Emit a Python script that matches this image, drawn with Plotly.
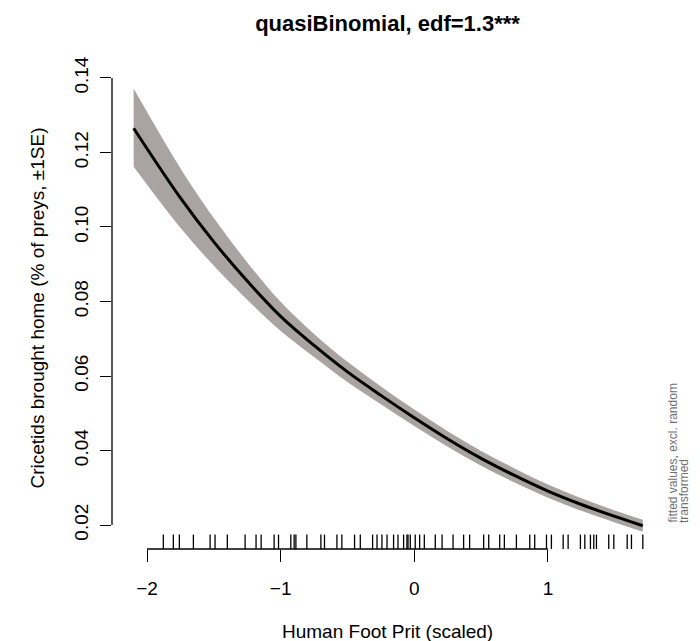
import plotly.graph_objects as go

# ---- data ----
x_grid = [-2.10, -1.75, -1.50, -1.25, -1.00, -0.75, -0.50, -0.25, 0.00, 0.25, 0.50, 0.75, 1.00, 1.25, 1.50, 1.71]
fit = [0.1265, 0.1078, 0.0960, 0.0855, 0.0760, 0.0682, 0.0611, 0.0548, 0.0488, 0.0431, 0.0379, 0.0333, 0.0291, 0.0255, 0.0223, 0.0198]
upper = [0.1372, 0.1158, 0.1024, 0.0905, 0.0799, 0.0713, 0.0638, 0.0572, 0.0510, 0.0452, 0.0399, 0.0352, 0.0309, 0.0272, 0.0239, 0.0214]
lower = [0.1162, 0.0998, 0.0896, 0.0805, 0.0721, 0.0651, 0.0584, 0.0524, 0.0466, 0.0410, 0.0359, 0.0314, 0.0273, 0.0238, 0.0207, 0.0182]

rug_x = [-1.878, -1.803, -1.758, -1.653, -1.528, -1.491, -1.399, -1.266, -1.184, -1.146,
         -1.049, -1.016, -0.924, -0.899, -0.886, -0.804, -0.699, -0.672, -0.579, -0.542,
         -0.447, -0.404, -0.312, -0.279, -0.242, -0.204, -0.155, -0.122, -0.080, -0.055,
         -0.047, -0.030, 0.007, 0.040, 0.075, 0.157, 0.208, 0.290, 0.369, 0.414,
         0.519, 0.557, 0.639, 0.674, 0.764, 0.864, 0.901, 0.989, 1.026, 1.114,
         1.151, 1.243, 1.276, 1.318, 1.343, 1.363, 1.455, 1.493, 1.593, 1.625, 1.710]

x_ticks = [-2, -1, 0, 1]
x_ticklabels = ["\u22122", "\u22121", "0", "1"]
y_ticks = [0.02, 0.04, 0.06, 0.08, 0.10, 0.12, 0.14]
y_ticklabels = ["0.02", "0.04", "0.06", "0.08", "0.10", "0.12", "0.14"]

title_text = "<b>quasiBinomial, edf=1.3***</b>"
x_title = "Human Foot Prit (scaled)"
y_title = "Cricetids brought home (% of preys, \u00b11SE)"
side_lines = ["fitted values, excl. random", "transformed"]

FONT = "Liberation Sans, Arial, Helvetica, sans-serif"
BAND = "#aaa3a3"

# page body has an 8px margin, so the figure is 8px smaller on each axis
W, H = 692, 633

fig = go.Figure()
fig.add_trace(go.Scatter(x=x_grid, y=lower, mode="lines", line=dict(width=0, shape="spline", color=BAND),
                         hoverinfo="skip", showlegend=False))
fig.add_trace(go.Scatter(x=x_grid, y=upper, mode="lines", line=dict(width=0, shape="spline", color=BAND),
                         fill="tonexty", fillcolor=BAND, hoverinfo="skip", showlegend=False))
fig.add_trace(go.Scatter(x=x_grid, y=fit, mode="lines", line=dict(width=3, shape="spline", color="black"),
                         showlegend=False))

shapes = []
# rug
for rx in rug_x:
    shapes.append(dict(type="line", xref="x", yref="paper", x0=rx, x1=rx, y0=0, y1=0.03,
                       line=dict(color="black", width=1.3)))
# axis lines spanning first to last tick (R style)
shapes.append(dict(type="line", xref="x", yref="paper", x0=x_ticks[0], x1=x_ticks[-1], y0=0, y1=0,
                   line=dict(color="black", width=1.3)))
shapes.append(dict(type="line", xref="paper", yref="y", x0=0, x1=0, y0=y_ticks[0], y1=y_ticks[-1],
                   line=dict(color="black", width=1.3)))

annotations = [
    dict(text=x_title, xref="paper", yref="paper", x=0.5, y=0, xanchor="center", yanchor="middle",
         yshift=-82, showarrow=False, font=dict(family=FONT, size=19, color="black")),
    dict(text=y_title, xref="paper", yref="paper", x=0, y=0.5, xanchor="center", yanchor="middle",
         xshift=-75, textangle=-90, showarrow=False, font=dict(family=FONT, size=19, color="black")),
]
for i, t in enumerate(side_lines):
    annotations.append(dict(text=t, xref="paper", yref="y", x=1, y=y_ticks[0], xanchor="center",
                            yanchor="bottom", xshift=10 + 11 * i, textangle=-90, showarrow=False,
                            font=dict(family=FONT, size=12, color="#707070")))

fig.update_layout(
    width=W, height=H,
    margin=dict(l=104, r=37, t=60, b=92),
    paper_bgcolor="white", plot_bgcolor="white",
    font=dict(family=FONT, color="black", size=19),
    title=dict(text=title_text, x=0.5, xref="paper", xanchor="center", y=1 - 15 / H,
               yref="container", yanchor="middle", font=dict(family=FONT, size=22, color="black")),
    shapes=shapes,
    annotations=annotations,
    xaxis=dict(range=[-2.262, 1.861], tickvals=x_ticks, ticktext=x_ticklabels, ticks="outside",
               ticklen=12, tickwidth=1.3, tickcolor="black", showgrid=False, zeroline=False,
               showline=False, tickfont=dict(size=19), ticklabelstandoff=10, automargin=False),
    yaxis=dict(range=[0.01356, 0.14268], tickvals=y_ticks, ticktext=y_ticklabels, ticks="outside",
               ticklen=11, tickwidth=1.3, tickcolor="black", showgrid=False, zeroline=False,
               showline=False, tickangle=-90, tickfont=dict(size=19), ticklabelstandoff=4,
               automargin=False),
)

fig.write_html("out.html")
